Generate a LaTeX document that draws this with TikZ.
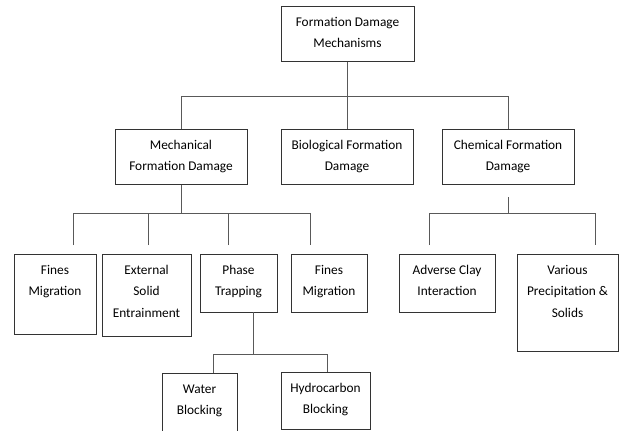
\documentclass[tikz,border=0pt]{standalone}
\usepackage{fontspec}
\setmainfont{Carlito}
% #7 = number of text lines (the node's base is the last line's baseline)
\newcommand\mkbox[7]{%
  \node[box, minimum width={(#4-#2)*0.75pt}, minimum height={(#5-#3)*0.75pt}] (#1) at ({(#2+#4)/2},{(#3+#5)/2}) {};
  \node[lbl] (#1-t) at ([yshift={-15.75pt-(#7-1)*16pt}]#1.north) {#6};}
\begin{document}
\begin{tikzpicture}[x=0.75pt,y=-0.75pt,
  box/.style={draw=black!80, line width=0.75pt, rectangle, inner sep=0pt},
  lbl/.style={align=center, inner sep=0pt, font=\fontsize{10}{16}\selectfont, anchor=base},
  conn/.style={draw=black!65, line width=0.75pt}]
\useasboundingbox (0,0) rectangle (620,430);
\clip (0,0) rectangle (620,430);
\fill[white] (0,0) rectangle (620,430);

\mkbox{top}{281}{6}{414}{61}{Formation Damage\\Mechanisms}{2}
\mkbox{mech}{115}{129}{247}{184}{Mechanical\\Formation Damage}{2}
\mkbox{bio}{281}{129}{413}{184}{Biological Formation\\Damage}{2}
\mkbox{chem}{442}{129}{574}{184}{Chemical Formation\\Damage}{2}
\mkbox{fma}{14}{254}{96}{334}{Fines\\Migration}{2}
\mkbox{ext}{102}{254}{191}{336}{External\\Solid\\Entrainment}{3}
\mkbox{phase}{200}{254}{277}{312}{Phase\\Trapping}{2}
\mkbox{fmb}{291}{254}{367}{312}{Fines\\Migration}{2}
\mkbox{adv}{399}{254}{495}{312}{Adverse Clay\\Interaction}{2}
\mkbox{var}{517}{254}{618}{351}{Various\\Precipitation \&\\Solids}{3}
\mkbox{water}{162}{373}{237}{445}{Water\\Blocking}{2}
\mkbox{hydro}{281}{372}{370}{429}{Hydrocarbon\\Blocking}{2}

% level 1 connectors
\coordinate (h1) at (0,96);
\draw[conn] (top.south) -- (top.south |- h1);
\draw[conn] (mech.north) -- (mech.north |- h1) -| (chem.north);
\draw[conn] (bio.north) -- (bio.north |- h1);

% mechanical group
\coordinate (h2) at (0,213);
\coordinate (m1) at (73,245);
\coordinate (m2) at (148,245);
\coordinate (m3) at (228,245);
\coordinate (m4) at (310,245);
\draw[conn] (mech.south) -- (mech.south |- h2);
\draw[conn] (m1) |- (m4 |- h2) -- (m4);
\draw[conn] (m2) -- (m2 |- h2);
\draw[conn] (m3) -- (m3 |- h2);

% chemical group
\coordinate (c0) at (508,197);
\coordinate (c1) at (429,245);
\coordinate (c2) at (595,245);
\draw[conn] (c0) -- (c0 |- h2);
\draw[conn] (c1) |- (c2 |- h2) -- (c2);

% phase trapping group
\coordinate (h3) at (0,354);
\coordinate (p0) at (253,312);
\coordinate (w1) at (213,373);
\coordinate (w2) at (327,372);
\draw[conn] (p0) -- (p0 |- h3);
\draw[conn] (w1) |- (w2 |- h3) -- (w2);
\end{tikzpicture}
\end{document}
